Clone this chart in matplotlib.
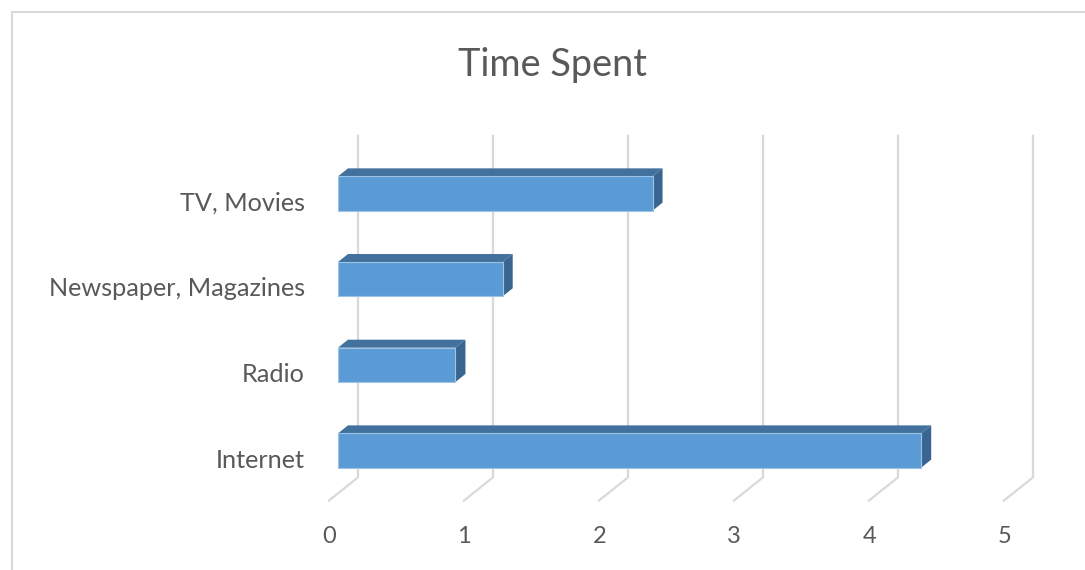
import matplotlib
matplotlib.use("Agg")
import matplotlib.pyplot as plt
from matplotlib.patches import Polygon, Rectangle

# data
categories = ["Internet", "Radio", "Newspaper, Magazines", "TV, Movies"]
hours = [4.32, 0.87, 1.22, 2.33]
value_ticks = [0, 1, 2, 3, 4, 5]
title = "Time Spent"

W, H = 1085, 570
fig = plt.figure(figsize=(W / 100, H / 100), dpi=100)
fig.patch.set_facecolor("white")

# pixel frame of the plot: value 0 on the front floor edge, 135 px per unit,
# categories 85.67 px apart
x0_px, x_unit = 328, 135.0
y0_px, y_unit = 458.5, 85.67

ax = fig.add_axes([0, 0, 1, 1])
ax.set_xlim((0 - x0_px) / x_unit, (W - x0_px) / x_unit)
ax.set_ylim((y0_px - H) / y_unit, y0_px / y_unit)
ax.axis("off")

# oblique depth offset (front of floor -> back wall)
DX = 30 / x_unit
DY = 24 / y_unit
floor_y = -0.5
wall_top = 3.5
bar_h = 0.4

grid_col = "#d9d9d9"
text_col = "#595959"
font = "Lato"

# gridlines: diagonal on floor, vertical on back wall
for v in value_ticks:
    ax.plot([v, v + DX, v + DX], [floor_y, floor_y + DY, wall_top + DY],
            color=grid_col, lw=1.6, solid_capstyle="butt", zorder=1)
    ax.text(v + 0.01, -0.905, str(v), ha="center", va="center",
            fontsize=17, color=text_col, family=font)

front_c = "#5b9bd5"
top_c = "#41719c"
side_c = "#3a6590"

for i, (cat, v) in enumerate(zip(categories, hours)):
    fx, fy = DX / 3, DY / 3      # front face depth
    bx, by = 2 * DX / 3, 2 * DY / 3  # back face depth
    lo, hi = i - bar_h / 2, i + bar_h / 2
    top = Polygon([(fx, hi + fy), (v + fx, hi + fy), (v + bx, hi + by), (bx, hi + by)],
                  closed=True, facecolor=top_c, edgecolor="none", zorder=3)
    side = Polygon([(v + fx, lo + fy), (v + bx, lo + by), (v + bx, hi + by), (v + fx, hi + fy)],
                   closed=True, facecolor=side_c, edgecolor="none", zorder=3)
    front = Rectangle((fx, lo + fy), v, bar_h, facecolor=front_c,
                      edgecolor="#9dc3e6", lw=0.8, zorder=4)
    ax.add_patch(top)
    ax.add_patch(side)
    ax.add_patch(front)
    ax.text(-0.17, i - 0.02, cat, ha="right", va="center", fontsize=18.2,
            color=text_col, family=font)

fig.text(553 / W, 1 - 65 / H, title, ha="center", va="center",
         fontsize=27.3, color=text_col, family=font)

# chart area border
fig.add_artist(Rectangle((12 / W, -0.05), 1.1, 1 - 12 / H + 0.05,
                         transform=fig.transFigure, fill=False,
                         edgecolor=grid_col, lw=1.5))

fig.savefig("out.png", dpi=100, facecolor="white")
